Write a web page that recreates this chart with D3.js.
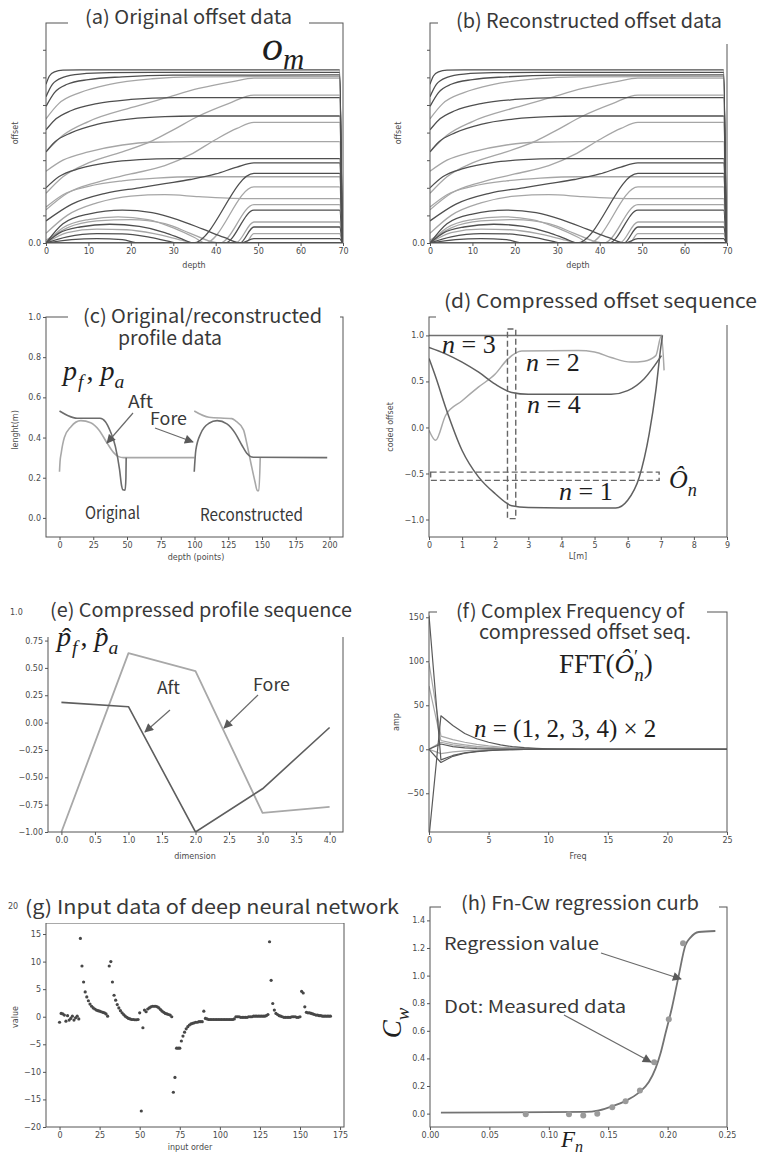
<!DOCTYPE html>
<html>
<head>
<meta charset="utf-8">
<script src="https://cdn.jsdelivr.net/npm/d3@7"></script>
<style>
  body { margin: 0; background: #fff; }
  svg { display: block; }
  .tick text { font-family: "DejaVu Sans", sans-serif; font-size: 8px; fill: #4a4a4a; }
  .tick line { stroke: #555; }
  .domain { display: none; }
  .albl { font-family: "DejaVu Sans", sans-serif; font-size: 8px; fill: #4a4a4a; }
  .ttl { font-family: "Noto Sans CJK JP", "Noto Sans", sans-serif; fill: #383838; }
</style>
</head>
<body>
<svg id="fig" width="758" height="1158"></svg>
<script>
// ---------- (a)/(b) hull offset curves: [depth, offset] ----------
const depthTicks = [0, 10, 20, 30, 40, 50, 60, 70];
const offsetTicks = [0, 1, 2, 3, 4, 5, 6, 7];

const offsetCurvesDark = [
  [[0,5.75],[0.8,6.05],[2,6.2],[4,6.26],[8,6.27],[69.2,6.27],[69.8,0]],
  [[0,5.3],[1.5,5.75],[4,6.0],[8,6.12],[15,6.17],[25,6.18],[69.2,6.18],[69.8,0]],
  [[0,4.95],[2,5.45],[5,5.75],[10,5.92],[18,6.02],[30,6.08],[69.2,6.09],[69.8,0]],
  [[0,4.1],[2,4.45],[6,4.8],[12,5.05],[20,5.2],[30,5.27],[69.2,5.27],[69.8,0]],
  [[0,3.3],[2,3.65],[6,4.0],[12,4.3],[20,4.5],[28,4.58],[35,4.6],[69.2,4.6],[69.8,0]],
  [[0,2.0],[3,2.4],[8,2.7],[15,2.92],[22,3.02],[30,3.06],[69.2,3.06],[69.8,0]],
  [[0,0.8],[6,1.4],[14,1.8],[22,2.0],[28,2.15],[34,2.3],[40,2.5],[45,2.75],[49,2.9],[69.2,2.9],[69.8,0]],
  [[0,0],[3,0.35],[8,0.58],[15,0.68],[22,0.6],[28,0.38],[32,0.15],[34.7,0],[49,2.52],[69.2,2.52],[69.8,0]],
  [[0,0],[4,0.7],[10,1.05],[18,1.19],[25,1.1],[31,0.85],[37,0.5],[42,0.2],[46,0],[49,0.16],[69.2,0.16],[69.8,0]],
  [[0,0],[5,0.22],[12,0.34],[18,0.33],[24,0.22],[29,0.06],[31,0],[42.2,0],[49,1.19],[69.2,1.19],[69.8,0]],
  [[0,0],[6,0.12],[12,0.16],[18,0.12],[22,0],[45.7,0],[49,0.58],[69.2,0.58],[69.8,0]],
  [[0,0],[69.2,0.01],[69.8,0]]
];
const offsetCurvesLight = [
  [[0,4.5],[3,5.05],[8,5.45],[15,5.75],[25,5.95],[35,6.02],[69.2,6.03],[69.8,0]],
  [[0,3.3],[4,3.9],[10,4.4],[20,4.9],[28,5.25],[36,5.6],[44,5.85],[49,5.97],[69.2,5.97],[69.8,0]],
  [[0,1.8],[4,2.4],[10,2.9],[18,3.3],[25,3.7],[30,4.1],[36,4.6],[43,5.05],[49,5.36],[69.2,5.36],[69.8,0]],
  [[0,1.2],[5,1.8],[12,2.2],[20,2.5],[28,2.8],[34,3.2],[40,3.75],[45,4.15],[49,4.37],[69.2,4.37],[69.8,0]],
  [[0,2.6],[4,3.0],[10,3.3],[18,3.55],[25,3.65],[35,3.67],[69.2,3.67],[69.8,0]],
  [[0,1.3],[4,1.75],[10,2.05],[18,2.25],[26,2.35],[35,2.4],[69.2,2.4],[69.8,0]],
  [[0,0],[4,0.55],[10,0.85],[17,0.95],[24,0.85],[30,0.55],[35,0.2],[37.5,0],[49,2.03],[69.2,2.03],[69.8,0]],
  [[0,0.35],[5,1.0],[12,1.45],[20,1.7],[28,1.75],[36,1.68],[44,1.62],[49,1.61],[69.2,1.61],[69.8,0]],
  [[0,0.1],[5,0.55],[12,0.8],[20,0.85],[28,0.7],[34,0.35],[39,0.05],[41,0],[49,1.39],[69.2,1.39],[69.8,0]],
  [[0,0],[47,0],[49,0.34],[69.2,0.34],[69.8,0]],
  [[0,0],[5,0.38],[12,0.5],[19,0.48],[26,0.32],[32,0.1],[35,0],[44.7,0],[49,0.76],[69.2,0.76],[69.8,0]]
];

// ---------- (c) profile data: [depth point, length m] ----------
const profileDepthTicks = [0, 25, 50, 75, 100, 125, 150, 175, 200];
const profileLenTicks = [0, 0.2, 0.4, 0.6, 0.8, 1.0];
const origFore = [[0,0.23],[0.4,0.28],[1.2,0.32],[3.6,0.40],[8.5,0.454],[15.8,0.484],[23.1,0.474],[29.2,0.438],[35.3,0.372],[40.1,0.325],[43.8,0.305],[47.4,0.3],[100,0.3]];
const origAft = [[0,0.532],[6,0.51],[13,0.496],[30,0.496],[34,0.479],[37.7,0.43],[41.4,0.355],[44.5,0.24],[46,0.16],[46.8,0.14],[48.6,0.138],[49.2,0.2],[49.4,0.3]];
const reconFore = [[99.8,0.23],[101,0.338],[104.6,0.42],[110.7,0.471],[116.8,0.484],[124,0.468],[130.2,0.421],[135,0.363],[138.7,0.322],[143.6,0.302],[198.3,0.3]];
const reconAft = [[99.8,0.532],[110.7,0.501],[127.7,0.494],[130.2,0.484],[136.3,0.438],[138.7,0.372],[141.8,0.272],[144.8,0.18],[146.5,0.136],[147.7,0.136],[148.7,0.3]];

// ---------- (d) coded offset sequences: [L m, coded offset] ----------
const lTicks = [0,1,2,3,4,5,6,7,8,9];
const codedTicks = [-1.0, -0.5, 0.0, 0.5, 1.0];
const codedN1 = [[0,0.75],[0.2,0.55],[0.5,0.22],[1,-0.25],[1.5,-0.54],[2,-0.72],[2.5,-0.85],[3,-0.87],[4,-0.875],[5.64,-0.875],[6,-0.79],[6.35,-0.54],[6.65,-0.07],[6.85,0.4],[7.0,0.87],[7.05,1.0]];
const codedN2 = [[0,-0.03],[0.2,-0.14],[0.5,0.13],[1.0,0.29],[1.5,0.44],[2.0,0.58],[2.37,0.74],[2.8,0.83],[4.5,0.835],[5.0,0.82],[5.5,0.76],[6.1,0.71],[6.5,0.72],[6.85,0.78],[7.02,1.0],[7.1,0.62]];
const codedN3 = [[0,1.0],[7.05,1.0]];
const codedN4 = [[0,0.87],[0.5,0.8],[1,0.71],[1.5,0.6],[2,0.47],[2.5,0.38],[3,0.36],[5.5,0.36],[6,0.4],[6.5,0.53],[7.02,0.78]];
const sliceBoxL = [2.37, 2.62];      // L extent of the vertical selection
const sliceBoxV = [-0.99, 1.07];
const seqBoxL = [0.05, 6.95];        // L extent of the horizontal selection
const seqBoxV = [-0.575, -0.485];

// ---------- (e) compressed profile sequence ----------
const dims = [0, 1, 2, 3, 4];
const dimTicks = [0, 0.5, 1, 1.5, 2, 2.5, 3, 3.5, 4];
const compTicks = [0.75, 0.5, 0.25, 0, -0.25, -0.5, -0.75, -1.0];
const compFore = [-1.0, 0.635, 0.47, -0.825, -0.77];
const compAft = [0.185, 0.145, -1.0, -0.605, -0.045];

// ---------- (f) FFT amplitudes, frequency 0..25 ----------
const freqTicks = [0, 5, 10, 15, 20, 25];
const ampTicks = [-50, 0, 50, 100, 150];
const fftDark = [
  [152,-12,-7,-4,-2.4,-1.4,-0.8,-0.4,-0.2,-0.1,0,0,0,0,0,0,0,0,0,0,0,0,0,0,0,0],
  [-100,38,27,18,12,8,5,3,1.8,1,0.5,0.2,0.1,0,0,0,0,0,0,0,0,0,0,0,0,0],
  [0,-15,-8,-4.5,-2.6,-1.5,-0.8,-0.4,-0.2,-0.1,0,0,0,0,0,0,0,0,0,0,0,0,0,0,0,0],
  [0,6,3,1.6,0.9,0.5,0.3,0.1,0,0,0,0,0,0,0,0,0,0,0,0,0,0,0,0,0,0]
];
const fftLight = [
  [98,15,11,8,5.5,3.8,2.5,1.6,1,0.6,0.3,0.1,0,0,0,0,0,0,0,0,0,0,0,0,0,0],
  [72,10,7,5,3.3,2.2,1.4,0.9,0.5,0.3,0.1,0,0,0,0,0,0,0,0,0,0,0,0,0,0,0],
  [0,8,5,3.2,2,1.2,0.7,0.4,0.2,0.1,0,0,0,0,0,0,0,0,0,0,0,0,0,0,0,0],
  [0,-5,-3,-1.8,-1,-0.6,-0.3,-0.1,0,0,0,0,0,0,0,0,0,0,0,0,0,0,0,0,0,0]
];

// ---------- (g) network input vector (index = input order) ----------
const orderTicks = [0, 25, 50, 75, 100, 125, 150, 175];
const valueTicks = [-20, -15, -10, -5, 0, 5, 10, 15];
const inputValues = [
  -1.0, 0.6, 0.5, 0.3, -0.8, 0.2, -0.6, -0.3, 0.1, -0.6, -0.2, 0.1, -0.4,
  14.2, 9.2, 6.3, 4.5, 3.6, 2.9, 2.3, 1.9, 1.6, 1.4, 1.2, 1.1, 1.0, 0.9, 0.8, 0.7, 0.5, 0.1,
  9.2, 10.0,
  6.3, 3.9, 3.0, 2.2, 1.6, 1.1, 0.7, 0.4, 0.1, -0.1, -0.3, -0.4, -0.5, -0.5, -0.55, -0.55, -0.5,
  0.7, -17.1, -2.0, 1.2, 0.9, 1.4, 1.6, 1.8, 1.9, 1.9, 1.9, 1.8, 1.6, 1.3, 1.0, 0.8, 0.6, 0.5, 0.4, 0.3, 0.0,
  -13.7, -11.0, -5.7, -5.7, -5.7, -4.4, -3.5, -2.8, -2.2, -1.8, -1.5, -1.3, -1.2, -1.1, -1.0, -1.0, -0.9, -0.9, -0.9,
  1.0,
  -0.3, -0.4, -0.5, -0.5, -0.5, -0.5, -0.5, -0.5, -0.5, -0.5, -0.5, -0.5, -0.5, -0.5, -0.5, -0.5, -0.5, -0.5, -0.4,
  0.0, 0.0, 0.0, -0.1, -0.1, -0.1, -0.1, -0.1, 0.0, 0.0, 0.0, 0.1, 0.1, 0.1, 0.1, 0.1, 0.1, 0.1, 0.1, 0.2, 0.4,
  13.6, 6.6, 2.4, 1.2, 0.6, 0.4, 0.2, 0.1, 0.0, -0.1, -0.1, -0.1, -0.1, -0.1, 0.0, 0.0, 0.0, -0.1, -0.1, 0.0,
  4.6, 4.3, 1.8, 0.8, 0.7, 0.7, 0.6, 0.5, 0.4, 0.3, 0.3, 0.2, 0.2, 0.1, 0.1, 0.1, 0.1, 0.1, 0.1
];

// ---------- (h) Fn - Cw ----------
const fnTicks = [0, 0.05, 0.10, 0.15, 0.20, 0.25];
const cwTicks = [0, 0.2, 0.4, 0.6, 0.8, 1.0, 1.2, 1.4];
const regFn = [0.0092,0.131,0.1422,0.1534,0.1646,0.1758,0.1842,0.1898,0.194,0.1982,0.2038,0.2094,0.215,0.2192,0.2262,0.2402];
const regCw = [0.007,0.012,0.024,0.053,0.092,0.152,0.229,0.326,0.435,0.58,0.773,1.002,1.22,1.275,1.316,1.323];
const measFn = [0.0806,0.117,0.129,0.1408,0.1534,0.1646,0.1767,0.1887,0.201,0.213];
const measCw = [-0.005,-0.005,-0.013,-0.001,0.046,0.09,0.167,0.372,0.683,1.235];

// ================= drawing =================
const svg = d3.select("#fig");
const defs = svg.append("defs");
defs.append("marker").attr("id", "ahead").attr("viewBox", "0 0 10 10")
  .attr("refX", 9).attr("refY", 5).attr("markerWidth", 10).attr("markerHeight", 9)
  .attr("markerUnits", "userSpaceOnUse").attr("orient", "auto")
  .append("path").attr("d", "M0,0 L10,5 L0,10 z").attr("fill", "#5a5a5a");

let clipId = 0;
function makePanel(box, xDom, yDom) {
  const x = d3.scaleLinear().domain(xDom).range([box.l, box.r]);
  const y = d3.scaleLinear().domain(yDom).range([box.b, box.t]);
  const id = "clip" + (clipId++);
  defs.append("clipPath").attr("id", id).append("rect")
    .attr("x", box.l).attr("y", box.t).attr("width", box.r - box.l).attr("height", box.b - box.t);
  const g = svg.append("g");
  const plot = g.append("g").attr("clip-path", `url(#${id})`);
  return { x, y, g, plot, box };
}
function drawAxes(p, xTicks, xFmt, yTicks, yFmt) {
  p.g.append("g").attr("transform", `translate(0,${p.box.b})`)
    .call(d3.axisBottom(p.x).tickValues(xTicks).tickFormat(xFmt).tickSize(3).tickPadding(2));
  p.g.append("g").attr("transform", `translate(${p.box.l},0)`)
    .call(d3.axisLeft(p.y).tickValues(yTicks).tickFormat(yFmt).tickSize(3).tickPadding(2));
  p.g.append("rect").attr("x", p.box.l).attr("y", p.box.t)
    .attr("width", p.box.r - p.box.l).attr("height", p.box.b - p.box.t)
    .attr("fill", "none").attr("stroke", "#555").attr("stroke-width", 1);
}
function xLabel(x, y, text) {
  svg.append("text").attr("class", "albl").attr("x", x).attr("y", y).attr("text-anchor", "middle").text(text);
}
function yLabel(x, y, text) {
  svg.append("text").attr("class", "albl").attr("text-anchor", "middle")
    .attr("transform", `translate(${x},${y}) rotate(-90)`).text(text);
}
function pathLine(p, data, color, width, curve) {
  p.plot.append("path").datum(data)
    .attr("d", d3.line().x(d => p.x(d[0])).y(d => p.y(d[1])).curve(curve || d3.curveLinear))
    .attr("fill", "none").attr("stroke", color).attr("stroke-width", width)
    .attr("stroke-linejoin", "round");
}
function label(x, y, text, w, size) {
  const t = svg.append("text").attr("class", "ttl").attr("x", x).attr("y", y)
    .attr("font-size", size || 17).text(text);
  if (w) t.attr("textLength", w).attr("lengthAdjust", "spacingAndGlyphs");
  return t;
}
function arrow(x1, y1, x2, y2) {
  svg.append("line").attr("x1", x1).attr("y1", y1).attr("x2", x2).attr("y2", y2)
    .attr("stroke", "#6a6a6a").attr("stroke-width", 1.2).attr("marker-end", "url(#ahead)");
}
function mathText(x, y, parts, size, rotate) {
  const t = svg.append("text").attr("font-family", "Liberation Serif, serif")
    .attr("font-size", size).attr("fill", "#1e1e1e");
  if (rotate) t.attr("transform", `translate(${x},${y}) rotate(-90)`).attr("text-anchor", "middle");
  else t.attr("x", x).attr("y", y);
  let shift = 0;
  parts.forEach(pt => {
    const target = pt.sub ? size * (pt.low || 0.3) : pt.sup ? -size * 0.38 : 0;
    const s = t.append("tspan").attr("dy", target - shift)
      .attr("font-size", (pt.sub || pt.sup) ? size * 0.7 : size)
      .attr("font-style", pt.it ? "italic" : "normal").text(pt.t);
    if (pt.dx) s.attr("dx", pt.dx);
    shift = target;
  });
  return t;
}
// hat accent placed over the preceding glyph
function hat(x, y, size) {
  svg.append("text").attr("font-family", "Liberation Serif, serif").attr("font-size", size)
    .attr("fill", "#1e1e1e").attr("x", x).attr("y", y).text("ˆ");
}
// title with white backing box that masks the frame beneath it
function title(lines, size, pad) {
  const g = svg.append("g");
  const bg = g.append("rect").attr("fill", "#fff");
  lines.forEach(l => {
    g.append("text").attr("class", "ttl").attr("x", l.x).attr("y", l.y)
      .attr("font-size", size).attr("textLength", l.w).attr("lengthAdjust", "spacingAndGlyphs").text(l.t);
  });
  const left = d3.min(lines, l => l.x) - pad[0];
  const right = d3.max(lines, l => l.x + l.w) + pad[1];
  const top = d3.min(lines, l => l.y) - size - 2;
  const bottom = d3.max(lines, l => l.y) + pad[2];
  bg.attr("x", left).attr("y", top).attr("width", right - left).attr("height", bottom - top);
}

const DARK = "#4f4f4f", LIGHT = "#a6a6a6";

// ---- (a) original offsets ----
const pa = makePanel({ l: 46, r: 343, t: 23, b: 243 }, [0, 70], [0, 7.97]);
offsetCurvesLight.forEach(c => pathLine(pa, c, LIGHT, 1.3, d3.curveMonotoneX));
offsetCurvesDark.forEach(c => pathLine(pa, c, DARK, 1.3, d3.curveMonotoneX));
drawAxes(pa, depthTicks, d3.format("d"), offsetTicks, d => d === 0 ? "0.0" : "");
xLabel(194, 268, "depth");
yLabel(18, 133, "offset");

// ---- (b) reconstructed offsets ----
const pb = makePanel({ l: 430, r: 727, t: 23, b: 243 }, [0, 70], [0, 7.97]);
offsetCurvesLight.forEach(c => pathLine(pb, c, LIGHT, 1.3, d3.curveMonotoneX));
offsetCurvesDark.forEach(c => pathLine(pb, c, DARK, 1.3, d3.curveMonotoneX));
drawAxes(pb, depthTicks, d3.format("d"), offsetTicks, d => d === 0 ? "0.0" : "");
xLabel(578, 268, "depth");
yLabel(401, 133, "offset");

// ---- (c) profiles ----
const pc = makePanel({ l: 46, r: 343, t: 317, b: 537 }, [-10, 210], [-0.095, 1.0]);
pathLine(pc, origFore, "#a8a8a8", 1.6, d3.curveMonotoneX);
pathLine(pc, origAft, "#6c6c6c", 1.6, d3.curveMonotoneX);
pathLine(pc, reconAft, "#a8a8a8", 1.6, d3.curveMonotoneX);
pathLine(pc, reconFore, "#6c6c6c", 1.6, d3.curveMonotoneX);
drawAxes(pc, profileDepthTicks, d3.format("d"), profileLenTicks, d3.format(".1f"));
xLabel(196, 560, "depth (points)");
yLabel(18, 430, "lenght(m)");

// ---- (d) coded offsets ----
const pd = makePanel({ l: 429, r: 727, t: 317, b: 537 }, [0, 9], [-1.19, 1.2]);
pathLine(pd, codedN3, "#707070", 1.5, d3.curveMonotoneX);
pathLine(pd, codedN2, "#a8a8a8", 1.5, d3.curveMonotoneX);
pathLine(pd, codedN4, "#606060", 1.5, d3.curveMonotoneX);
pathLine(pd, codedN1, "#606060", 1.5, d3.curveMonotoneX);
[[sliceBoxL, sliceBoxV], [seqBoxL, seqBoxV]].forEach(([lx, vy]) => {
  pd.plot.append("rect").attr("x", pd.x(lx[0])).attr("y", pd.y(vy[1]))
    .attr("width", pd.x(lx[1]) - pd.x(lx[0])).attr("height", pd.y(vy[0]) - pd.y(vy[1]))
    .attr("fill", "none").attr("stroke", "#666").attr("stroke-width", 1.4).attr("stroke-dasharray", "6,3");
});
drawAxes(pd, lTicks, d3.format("d"), codedTicks, d3.format(".1f"));
xLabel(578, 559, "L[m]");
yLabel(393, 427, "coded offset");

// ---- (e) compressed profiles ----
const pe = makePanel({ l: 48, r: 343, t: 634, b: 832 }, [-0.2, 4.2], [-1.0, 0.81]);
pathLine(pe, dims.map((d, i) => [d, compFore[i]]), "#a8a8a8", 1.8);
pathLine(pe, dims.map((d, i) => [d, compAft[i]]), "#5e5e5e", 1.6);
drawAxes(pe, dimTicks, d3.format(".1f"), compTicks, d3.format(".2f"));
xLabel(195, 859, "dimension");

// ---- (f) FFT ----
const pf = makePanel({ l: 429, r: 727, t: 612, b: 832 }, [0, 25], [-94, 156]);
fftLight.forEach(s => pathLine(pf, s.map((v, i) => [i, v]), "#a8a8a8", 1.2));
fftDark.forEach(s => pathLine(pf, s.map((v, i) => [i, v]), "#5a5a5a", 1.2));
drawAxes(pf, freqTicks, d3.format("d"), ampTicks, d3.format("d"));
xLabel(578, 859, "Freq");
yLabel(399, 722, "amp");

// ---- (g) input vector ----
const pg = makePanel({ l: 46, r: 344, t: 923, b: 1127 }, [-8.45, 177.45], [-20, 17]);
pg.plot.selectAll("circle").data(inputValues).join("circle")
  .attr("cx", (d, i) => pg.x(i)).attr("cy", d => pg.y(d)).attr("r", 1.6).attr("fill", "#474747");
drawAxes(pg, orderTicks, d3.format("d"), valueTicks, d3.format("d"));
xLabel(190, 1150, "input order");
yLabel(18, 1017, "value");

// ---- (h) regression ----
const ph = makePanel({ l: 430, r: 727, t: 907, b: 1127 }, [0, 0.25], [-0.097, 1.497]);
pathLine(ph, regFn.map((f, i) => [f, regCw[i]]), "#737373", 1.8, d3.curveMonotoneX);
ph.plot.selectAll("circle").data(measFn).join("circle")
  .attr("cx", d => ph.x(d)).attr("cy", (d, i) => ph.y(measCw[i])).attr("r", 3).attr("fill", "#9a9a9a");
drawAxes(ph, fnTicks, d3.format(".2f"), cwTicks, d3.format(".1f"));

// ---- panel titles ----
title([{ t: "(a) Original offset data", x: 85, y: 24, w: 207 }], 19, [17, 17, 18]);
title([{ t: "(b) Reconstructed offset data", x: 456, y: 28, w: 266 }], 20, [18, 40, 16]);
title([{ t: "(c) Original/reconstructed", x: 83, y: 323, w: 239 },
       { t: "profile data", x: 118, y: 345, w: 104 }], 19, [15, 18, 8]);
title([{ t: "(d) Compressed offset sequence", x: 444, y: 308, w: 313 }], 19, [8, 20, 17]);
title([{ t: "(e) Compressed profile sequence", x: 50, y: 617, w: 302 }], 19, [16, 16, 20]);
title([{ t: "(f) Complex Frequency of", x: 456, y: 618, w: 228 },
       { t: "compressed offset seq.", x: 479, y: 639, w: 212 }], 19, [19, 16, 8]);
title([{ t: "(g) Input data of deep neural network", x: 25, y: 914, w: 374 }], 19, [9, 10, 9]);
title([{ t: "(h) Fn-Cw regression curb", x: 461, y: 910, w: 238 }], 19, [20, 20, 6]);

// loose tick labels left above the frames
svg.append("text").attr("class", "albl").attr("x", 10).attr("y", 615).text("1.0");
svg.append("text").attr("class", "albl").attr("x", 8).attr("y", 909).text("20");

// ---- annotations ----
mathText(262, 60, [{ t: "o", it: true }, { t: "m", it: true, sub: true, low: 0.22 }], 42);

mathText(63, 380, [{ t: "p", it: true }, { t: "f", it: true, sub: true, dx: 1 }, { t: ",", dx: 3 }, { t: " p", it: true }, { t: "a", it: true, sub: true }], 28);
label(128, 408, "Aft", 25);
label(150, 425, "Fore", 37);
arrow(133, 413, 107, 443);
arrow(155, 428, 193, 442);
label(85, 519, "Original", 55);
label(200, 521, "Reconstructed", 103);

mathText(442, 353, [{ t: "n", it: true }, { t: " = 3" }], 26);
mathText(526, 371, [{ t: "n", it: true }, { t: " = 2" }], 26);
mathText(527, 413, [{ t: "n", it: true }, { t: " = 4" }], 26);
mathText(559, 500, [{ t: "n", it: true }, { t: " = 1" }], 26);
mathText(669, 488, [{ t: "Ô", it: true }, { t: "n", it: true, sub: true }], 26);

mathText(57, 646, [{ t: "p", it: true }, { t: "f", it: true, sub: true, dx: 1 }, { t: ",", dx: 3 }, { t: " p", it: true }, { t: "a", it: true, sub: true }], 28);
hat(62, 647, 28);
hat(97, 647, 28);
label(157, 694, "Aft", 23);
label(253, 691, "Fore", 37);
arrow(170, 710, 145, 732);
arrow(258, 695, 224, 728);

mathText(559, 673, [{ t: "FFT(" }, { t: "Ô", it: true }, { t: "′", sup: true }, { t: "n", it: true, sub: true, dx: -4 }, { t: ")" }], 27);
mathText(474, 737, [{ t: "n", it: true }, { t: " = (1, 2, 3, 4) × 2" }], 25);

label(444, 950, "Regression value", 155);
label(444, 1013, "Dot: Measured data", 182);
arrow(601, 953, 681, 979);
arrow(564, 1015, 651, 1062);
mathText(401, 1023, [{ t: "C", it: true }, { t: "w", it: true, sub: true }], 27, true);
mathText(561, 1147, [{ t: "F", it: true }, { t: "n", it: true, sub: true, low: 0.2 }], 23);
</script>
</body>
</html>
